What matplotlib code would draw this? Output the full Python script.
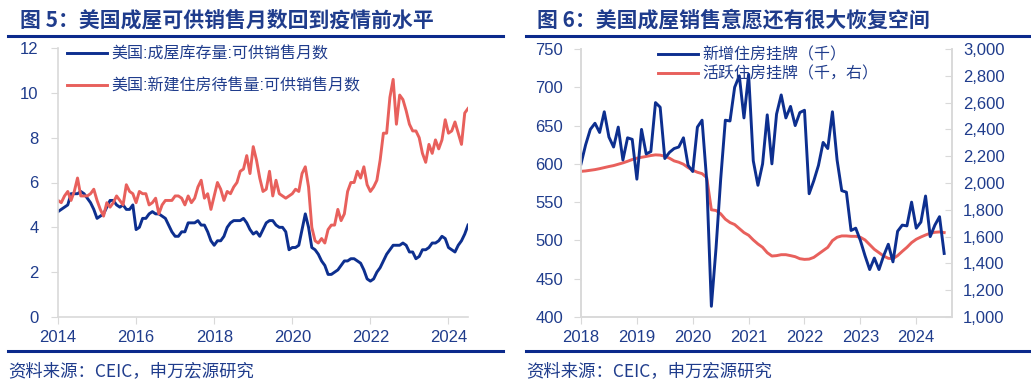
import numpy as np
import pandas as pd
import matplotlib
matplotlib.use("Agg")
import matplotlib.pyplot as plt
from matplotlib.lines import Line2D
from matplotlib.ticker import FuncFormatter

plt.rcParams['font.family'] = ['Liberation Sans', 'Noto Sans CJK SC']

# ---- data: figure 5 (monthly, Jan 2014 - Jul 2024) ----
existing_supply = [
    4.7, 4.8, 4.9, 5.0, 5.5, 5.5, 5.5, 5.6, 5.5, 5.3, 5.1, 4.8,
    4.4, 4.5, 4.6, 4.9, 5.2, 5.2, 5.0, 4.9, 5.0, 4.8, 4.8, 5.0,
    3.9, 4.0, 4.4, 4.4, 4.6, 4.7, 4.6, 4.6, 4.5, 4.4, 4.1, 3.8,
    3.6, 3.6, 3.8, 3.8, 4.2, 4.2, 4.2, 4.3, 4.1, 4.1, 3.8, 3.4,
    3.2, 3.4, 3.4, 3.6, 4.0, 4.2, 4.3, 4.3, 4.3, 4.4, 4.2, 3.9,
    3.7, 3.8, 3.6, 3.9, 4.2, 4.3, 4.3, 4.1, 4.0, 4.0, 3.8, 3.0,
    3.1, 3.1, 3.2, 3.9, 4.6, 4.0, 3.1, 3.0, 2.8, 2.5, 2.3, 1.9,
    1.9, 2.0, 2.1, 2.3, 2.5, 2.5, 2.6, 2.6, 2.5, 2.4, 2.1, 1.7,
    1.6, 1.7, 2.0, 2.2, 2.5, 2.8, 3.0, 3.2, 3.2, 3.2, 3.3, 3.2,
    2.9, 2.9, 2.6, 2.7, 3.0, 3.0, 3.1, 3.3, 3.3, 3.4, 3.6, 3.5,
    3.1, 3.0, 2.9, 3.2, 3.4, 3.7, 4.1,
]
new_supply = [
    5.2, 5.1, 5.4, 5.6, 5.2, 5.6, 6.2, 5.4, 5.4, 5.4, 5.5, 5.7,
    5.2, 4.8, 4.5, 5.1, 4.9, 5.1, 5.4, 5.2, 5.0, 5.9, 5.6, 5.5,
    5.1, 5.6, 5.5, 5.5, 5.0, 5.1, 5.3, 4.6, 5.0, 5.2, 5.2, 5.2,
    5.4, 5.4, 5.3, 5.0, 5.4, 5.1, 5.3, 5.8, 6.1, 5.3, 5.5, 4.8,
    5.4, 6.0, 5.7, 5.2, 5.6, 5.5, 5.8, 6.0, 6.5, 6.6, 7.2, 6.4,
    7.6, 7.0, 6.2, 5.6, 5.7, 6.5, 5.4, 6.1, 5.5, 5.4, 5.3, 5.4,
    5.5, 5.7, 5.6, 6.4, 6.7, 5.8, 4.0, 3.4, 3.3, 3.5, 3.3, 3.9,
    4.1, 4.1, 4.8, 4.3, 4.6, 5.6, 6.0, 6.0, 6.5, 6.2, 6.7, 5.9,
    5.6, 5.8, 6.1, 7.0, 8.2, 8.2, 9.8, 10.6, 8.6, 9.9, 9.7, 9.2,
    8.6, 8.3, 8.3, 8.0, 7.3, 6.9, 7.7, 7.3, 7.9, 7.5, 7.9, 8.8,
    8.2, 8.3, 8.7, 8.2, 7.7, 9.1, 9.3,
]

# ---- data: figure 6 (monthly, Jan 2018 - Jul 2024) ----
new_listings = [
    600, 625, 645, 653, 641, 668, 635, 622, 648, 605, 634, 632,
    580, 645, 613, 616, 680, 674, 607, 615, 620, 622, 634, 598,
    590, 648, 657, 578, 414, 490, 580, 657, 656, 700, 715, 660,
    717, 604, 572, 600, 664, 600, 665, 690, 660, 675, 650, 667,
    670, 561, 578, 598, 628, 620, 668, 605, 565, 563, 513, 516,
    500, 480, 462, 477, 462, 480, 495, 472, 512, 520, 519, 550,
    516, 524, 558, 505, 520, 531, 483,
]
active_listings = [
    2087, 2090, 2095, 2100, 2107, 2115, 2123, 2130, 2140, 2150, 2162, 2175,
    2185, 2192, 2198, 2205, 2210, 2208, 2200, 2185, 2165, 2155, 2140, 2115,
    2095, 2080, 2070, 2040, 1800, 1795, 1770, 1730, 1705, 1690, 1660, 1630,
    1610, 1575, 1545, 1520, 1480, 1455, 1458, 1465, 1465, 1458, 1450, 1435,
    1430, 1432, 1445, 1470, 1495, 1520, 1570, 1595, 1605, 1605, 1602, 1602,
    1595, 1575, 1540, 1505, 1480, 1455, 1438, 1435, 1458, 1490, 1520, 1555,
    1580, 1597, 1612, 1625, 1632, 1635, 1630,
]

t5 = 2014 + np.arange(len(existing_supply)) / 12
t6 = 2018 + np.arange(len(new_listings)) / 12

BLUE = '#0d2f8f'
RED = '#e8605c'
TXT = '#1f3c8c'
GRID = '#d9d9d9'

fig = plt.figure(figsize=(10.31, 3.83), dpi=100)
W, H = 1031, 383


def px(x, y):
    return x / W, 1 - y / H


def style(ax):
    for s in ax.spines.values():
        s.set_color(GRID)
        s.set_linewidth(1.2)
    ax.tick_params(colors=GRID, labelcolor=TXT, labelsize=12, length=5, pad=4)


# ---- left panel ----
ax1 = fig.add_axes([58 / W, 66 / H, 410 / W, 269 / H])
ax1.plot(t5, existing_supply, color=BLUE, lw=2.1, label='美国:成屋库存量:可供销售月数')
ax1.plot(t5, new_supply, color=RED, lw=2.1, label='美国:新建住房待售量:可供销售月数')
ax1.set_xlim(2014, 2024.5)
ax1.set_ylim(0, 12)
ax1.set_yticks(range(0, 13, 2))
ax1.set_xticks(range(2014, 2025, 2))
ax1.spines['top'].set_visible(False)
ax1.spines['right'].set_visible(False)
style(ax1)
ax1.tick_params(axis='y', pad=9)
ax1.legend(loc='upper left', bbox_to_anchor=(0.022, 1.005), frameon=False,
           fontsize=11.5, handlelength=2.5, handletextpad=0.25,
           labelspacing=1.05, labelcolor=TXT, borderpad=0, borderaxespad=0)

# ---- right panel ----
ax2 = fig.add_axes([581 / W, 66 / H, 371 / W, 268 / H])
l1, = ax2.plot(t6, new_listings, color=BLUE, lw=2.1, label='新增住房挂牌（千）')
ax2.set_xlim(2018, 2024.64)
ax2.set_ylim(400, 750)
ax2.set_xticks(range(2018, 2025))
ax2.spines['top'].set_visible(False)
style(ax2)
ax2.tick_params(axis='y', pad=8)
ax3 = ax2.twinx()
l2, = ax3.plot(t6, active_listings, color=RED, lw=2.1, label='活跃住房挂牌（千，右）')
ax3.set_ylim(1000, 3000)
ax3.set_yticks(range(1000, 3001, 200))
ax3.yaxis.set_major_formatter(FuncFormatter(lambda v, p: f'{int(v):,}'))
ax3.spines['top'].set_visible(False)
style(ax3)
ax3.tick_params(axis='y', direction='in', pad=8)
ax2.set_zorder(ax3.get_zorder() + 1)
ax2.patch.set_visible(False)
ax2.legend([l1, l2], [l1.get_label(), l2.get_label()], loc='upper left',
           bbox_to_anchor=(0.2075, 1.005), frameon=False, fontsize=11.5,
           handlelength=2.5, handletextpad=0.25, labelspacing=0.2,
           labelcolor=TXT, borderpad=0, borderaxespad=0)

# ---- titles, rules, source ----
fig.text(*px(20, 20), '图 5：美国成屋可供销售月数回到疫情前水平', fontsize=15,
         fontweight='bold', color=TXT, va='center', family=['Noto Sans CJK SC'])
fig.text(*px(537, 20), '图 6：美国成屋销售意愿还有很大恢复空间', fontsize=15,
         fontweight='bold', color=TXT, va='center', family=['Noto Sans CJK SC'])
for x0, x1 in [(8, 503), (526, 1030)]:
    for yy in (36, 351):
        fig.add_artist(Line2D([x0 / W, x1 / W], [1 - yy / H] * 2,
                              color='#0b2a8c', lw=2.2))
    fig.text(*px(x0, 371), '资料来源：CEIC，申万宏源研究', fontsize=12.5,
             color=TXT, va='center', family=['Noto Sans CJK SC'])

fig.savefig('out.png', dpi=100)
